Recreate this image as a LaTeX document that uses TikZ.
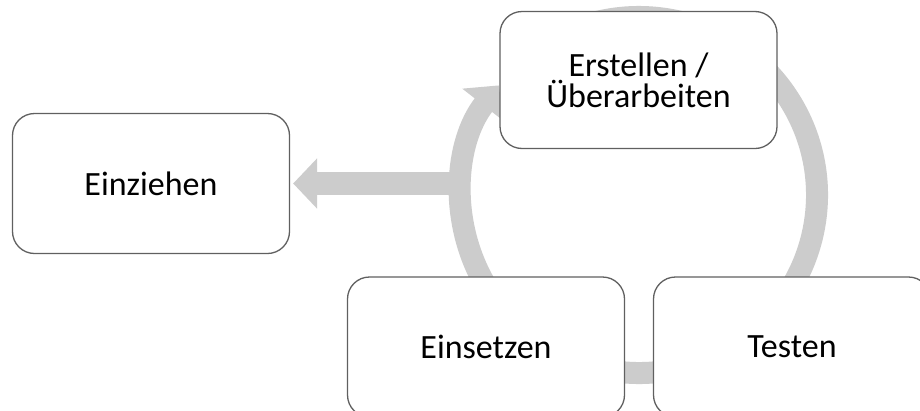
\documentclass[tikz,border=0pt]{standalone}
\usepackage{fontspec}
\setmainfont{Carlito}
\usetikzlibrary{arrows.meta,calc}
\definecolor{ringgray}{HTML}{CCCCCC}
\definecolor{boxline}{HTML}{606060}
\tikzset{
  stage/.style={draw=boxline, line width=1.3pt, fill=white, rounded corners=22pt,
    minimum width=277pt, minimum height=140pt, align=center,
    font=\fontsize{34}{31}\selectfont, inner sep=0pt},
  ring/.style={draw=ringgray, line width=22pt},
  bigtip/.style={-{Triangle[length=25pt,width=52pt]}}
}
\begin{document}
\begin{tikzpicture}[x=1pt,y=1pt]
  \useasboundingbox (0,0) rectangle (920,-410);
  \clip (0,0) rectangle (920,-410);
  \fill[white] (0,0) rectangle (920,-410);

  % cycle centre and ring
  \coordinate (c) at (639,-195);
  \draw[ring, bigtip, ringgray] ($(c)+(120:178)$) arc[start angle=120, end angle=-218, radius=178];

  % stages
  \node[stage, minimum height=137pt] (erst) at (638.5,-80) {Erstellen /\\Überarbeiten};
  \node[stage] (einz) at (151,-183.5) {Einziehen};
  \node[stage] (eins) at (486,-347) {Einsetzen};
  \node[stage] (test) at (792,-347) {Testen};

  % exit from the cycle
  \coordinate (ringw) at ($(c)+(180:178)$);
  \draw[draw=ringgray, line width=23pt, -{Triangle[length=24pt,width=49pt]}, ringgray]
    (ringw |- einz.east) -- ($(einz.east)+(3,0)$);
\end{tikzpicture}
\end{document}
